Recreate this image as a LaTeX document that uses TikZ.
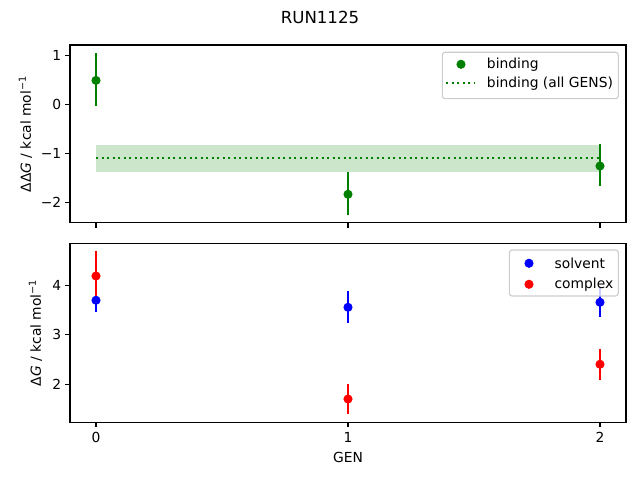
\documentclass[tikz,border=0pt]{standalone}
\usepackage{fontspec}
\setmainfont{DejaVu Sans}
\definecolor{mplgreen}{HTML}{008000}
\definecolor{mplblue}{HTML}{0000FF}
\definecolor{mplred}{HTML}{FF0000}
\definecolor{legedge}{HTML}{CCCCCC}
\begin{document}
\begin{tikzpicture}[x=0.01in,y=-0.01in,
  spine/.style={line width=0.8pt,black},
  tickmark/.style={line width=0.8pt,black},
  ebar/.style={line width=1.5pt},
  dot/.style={circle,inner sep=0pt,minimum size=6.6pt,draw=none},
  ticklab/.style={font=\fontsize{10}{12}\selectfont,inner sep=0pt},
  leglab/.style={font=\fontsize{10}{12}\selectfont,inner sep=0pt,anchor=west},
  legbox/.style={draw=legedge,line width=0.8pt,fill=white,fill opacity=0.8,rounded corners=2pt},
  dotline/.style={line width=1.5pt,dash pattern=on 1.5pt off 2.475pt}]
\useasboundingbox (0,0) rectangle (640,480);
% title
\node[font=\fontsize{12}{14}\selectfont,inner sep=0pt] (title) at (320,17) {RUN1125};

% ---------- top axes ----------
\fill[mplgreen,opacity=0.2] (96,145) rectangle (600,171.7);
\coordinate (ls) at (96,157.7);
\coordinate (le) at (600,157.7);
\draw[mplgreen,dotline] (ls) -- (le);
\draw[mplgreen,ebar] (96,53.3) -- (96,106.3);
\draw[mplgreen,ebar] (348,171.7) -- (348,215);
\draw[mplgreen,ebar] (600,144.3) -- (600,186);
\node[dot,fill=mplgreen] (b0) at (96,80.4) {};
\node[dot,fill=mplgreen] (b1) at (348,194.3) {};
\node[dot,fill=mplgreen] (b2) at (600,166) {};
\draw[spine] (70,45) rectangle (626,222.7);
\foreach \yy/\lab in {55.5/1,104.4/0,153.3/{−1},202.2/{−2}}{
  \draw[tickmark] (70,\yy) -- ++(-4.86,0);
  \node[ticklab,anchor=east] at (61.5,\yy) {\lab};
}
\foreach \xx in {96,348,600}{
  \draw[tickmark] (\xx,222.7) -- ++(0,4.86);
}
\node[rotate=90,font=\fontsize{10}{12}\selectfont,inner sep=0pt] (ylabtop) at (25.5,134) {ΔΔ\textit{G} / kcal mol\textsuperscript{−1}};
% legend top
\draw[legbox] (442.3,52.3) rectangle (618.3,98.7);
\node[dot,fill=mplgreen] (lgb) at (461,64.3) {};
\coordinate (lds) at (446,83.3);
\coordinate (lde) at (474,83.3);
\draw[mplgreen,dotline] (lds) -- (lde);
\node[leglab] (lt1) at (486.7,64.3) {binding};
\node[leglab] (lt2) at (486.7,83.3) {binding (all GENS)};

% ---------- bottom axes ----------
\draw[mplblue,ebar] (96,288.3) -- (96,312.3);
\draw[mplblue,ebar] (348,291) -- (348,322.7);
\draw[mplblue,ebar] (600,286.7) -- (600,316.7);
\draw[mplred,ebar] (96,251) -- (96,300);
\draw[mplred,ebar] (348,384) -- (348,414);
\draw[mplred,ebar] (600,349) -- (600,380);
\node[dot,fill=mplblue] (s0) at (96,300.3) {};
\node[dot,fill=mplblue] (s1) at (348,307.3) {};
\node[dot,fill=mplblue] (s2) at (600,302.3) {};
\node[dot,fill=mplred] (c0) at (96,276) {};
\node[dot,fill=mplred] (c1) at (348,399) {};
\node[dot,fill=mplred] (c2) at (600,364.3) {};
\draw[spine] (70,243.3) rectangle (626,422.3);
\foreach \yy/\lab in {285.3/4,334.8/3,384.3/2}{
  \draw[tickmark] (70,\yy) -- ++(-4.86,0);
  \node[ticklab,anchor=east] at (61.5,\yy) {\lab};
}
\foreach \xx/\lab in {96/0,348/1,600/2}{
  \draw[tickmark] (\xx,422.3) -- ++(0,4.86);
  \node[ticklab,anchor=north] at (\xx,432) {\lab};
}
\node[font=\fontsize{10}{12}\selectfont,inner sep=0pt] (xlab) at (348,457.3) {GEN};
\node[rotate=90,font=\fontsize{10}{12}\selectfont,inner sep=0pt] (ylabbot) at (35.5,332.8) {Δ\textit{G} / kcal mol\textsuperscript{−1}};
% legend bottom
\draw[legbox] (509.3,250) rectangle (618.3,296);
\node[dot,fill=mplblue] (lgs) at (529,263.3) {};
\node[dot,fill=mplred] (lgc) at (529,284.3) {};
\node[leglab] (lt3) at (554.3,263.3) {solvent};
\node[leglab] (lt4) at (554.3,284.3) {complex};
\end{tikzpicture}
\end{document}
